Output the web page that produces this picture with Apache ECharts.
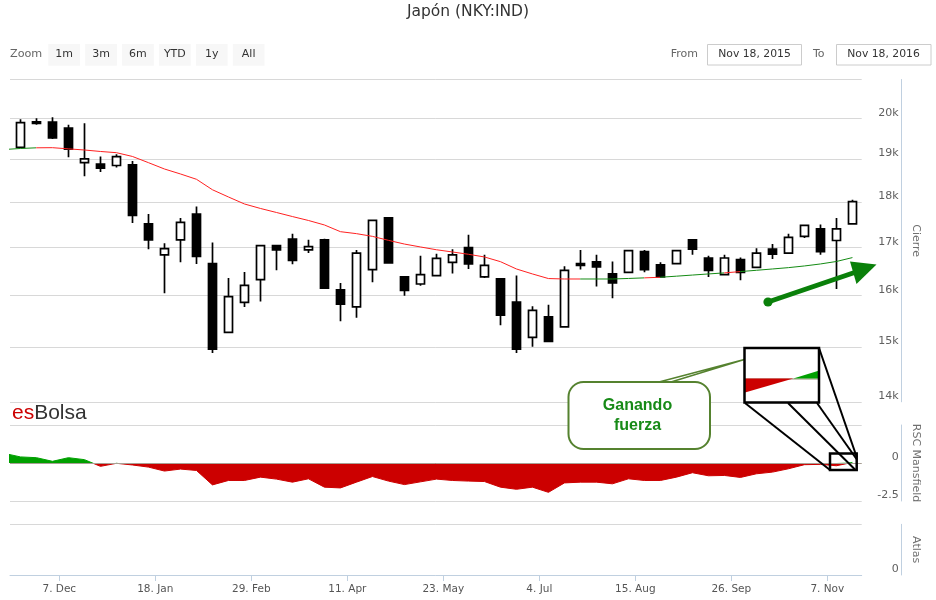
<!DOCTYPE html>
<html>
<head>
<meta charset="utf-8">
<title>Japón (NKY:IND)</title>
<script src="https://cdn.jsdelivr.net/npm/echarts@6.0.0/dist/echarts.min.js"></script>
<style>
html, body { margin: 0; padding: 0; background: #ffffff; }
#chart { width: 936px; height: 600px; }
</style>
</head>
<body>
<div id="chart"></div>
<script>
// ---------- DATA (weekly candles, Friday dates) ----------
const weeks = ['2015-11-20','2015-11-27','2015-12-04','2015-12-11','2015-12-18','2015-12-25',
  '2016-01-01','2016-01-08','2016-01-15','2016-01-22','2016-01-29','2016-02-05','2016-02-12',
  '2016-02-19','2016-02-26','2016-03-04','2016-03-11','2016-03-18','2016-03-25','2016-04-01',
  '2016-04-08','2016-04-15','2016-04-22','2016-04-29','2016-05-06','2016-05-13','2016-05-20',
  '2016-05-27','2016-06-03','2016-06-10','2016-06-17','2016-06-24','2016-07-01','2016-07-08',
  '2016-07-15','2016-07-22','2016-07-29','2016-08-05','2016-08-12','2016-08-19','2016-08-26',
  '2016-09-02','2016-09-09','2016-09-16','2016-09-23','2016-09-30','2016-10-07','2016-10-14',
  '2016-10-21','2016-10-28','2016-11-04','2016-11-11','2016-11-18'];
const open  = [19279,19909,19902,19755,18916,18879,18846,18863,17511,16844,17165,17731,16658,15279,15864,16326,17040,17180,16948,17165,16118,15774,16533,17643,16382,16236,16409,16685,16996,16382,16340,15871,15181,15579,15384,16658,16693,16444,16477,16913,16631,16658,17165,16776,16429,16741,16581,16963,16880,17238,17401,17150,17511];
const close = [19892,19873,19510,19240,19002,18786,19059,17700,17165,16975,17546,16809,14958,15981,16207,17040,16948,16726,17017,16153,15832,16880,17590,16672,16104,16429,16768,16844,16651,16622,15610,14958,15708,15103,16519,16622,16589,16257,16934,16533,16382,16934,16963,16519,16776,16477,16880,16859,17216,17480,16913,17401,18009];
const high  = [19975,20000,20025,19836,19877,19059,19118,18956,17731,17092,17643,17899,17106,16361,16485,17045,17045,17297,17165,17187,16257,16948,17595,17650,16390,16824,16865,16963,17275,16844,16345,16409,15786,15819,16602,16948,16844,16705,16940,16948,16685,16940,17170,16824,16844,16788,16983,17073,17297,17485,17496,17643,18049];
const low   = [19270,19836,19485,19044,18591,18693,18800,17533,16963,16050,16685,16651,14885,15270,15774,15883,16519,16643,16880,16133,15493,15560,16270,16665,16000,16201,16400,16450,16548,16361,15415,14885,15006,15095,15375,16533,16187,15949,16470,16477,16375,16650,16844,16382,16420,16311,16575,16755,16875,17203,16844,16133,17505];

// moving average and RSC Mansfield (one extra earlier week so the lines reach the left edge)
const lineDates = ['2015-11-13'].concat(weeks);
const movingAvg = [19230,19254,19271,19274,19245,19218,19182,19153,19062,18914,18764,18647,18523,18280,18115,17956,17855,17765,17674,17587,17488,17341,17298,17239,17153,17073,17011,16951,16904,16855,16798,16699,16546,16443,16348,16339,16339,16339,16339,16350,16362,16375,16397,16420,16443,16465,16492,16519,16546,16574,16609,16651,16703,16785];
const rscMansfield = [0.63,0.40,0.35,0.11,0.35,0.22,-0.22,-0.02,-0.13,-0.27,-0.53,-0.40,-0.49,-1.44,-1.15,-1.15,-0.93,-1.06,-1.26,-1.04,-1.59,-1.64,-1.26,-0.89,-1.19,-1.42,-1.24,-1.06,-1.15,-1.19,-1.22,-1.59,-1.73,-1.59,-1.93,-1.31,-1.26,-1.26,-1.37,-1.04,-1.15,-1.15,-0.93,-0.64,-0.84,-0.82,-0.95,-0.71,-0.60,-0.38,-0.11,-0.09,-0.18,0.04];

// MA colour changes (green -> red -> green ...)
const maColorBreaks = ['2015-11-27','2016-07-22','2016-08-19','2016-08-26','2016-09-23','2016-09-30'];

// ticks
const priceGridValues  = [14000,15000,16000,17000,18000,19000,20000,21000];
const priceLabelValues = [14000,15000,16000,17000,18000,19000,20000];
const rscGridValues  = [-2.5, 0, 2.5];
const rscLabelValues = [-2.5, 0];
const atlasGridValues  = [1];
const atlasLabelValues = [0];
const xTickDates  = ['2015-12-07','2016-01-18','2016-02-29','2016-04-11','2016-05-23','2016-07-04','2016-08-15','2016-09-26','2016-11-07'];
const xTickLabels = ['7. Dec','18. Jan','29. Feb','11. Apr','23. May','4. Jul','15. Aug','26. Sep','7. Nov'];

const titleText = 'Japón (NKY:IND)';
const rangeButtons = ['1m','3m','6m','YTD','1y','All'];
const fromDate = 'Nov 18, 2015';
const toDate = 'Nov 18, 2016';

// ---------- helpers ----------
const DAY = 86400000;
function toTs(s) { const p = s.split('-').map(Number); return Date.UTC(p[0], p[1] - 1, p[2]); }
const weekTs = weeks.map(toTs);
const lineTs = lineDates.map(toTs);
const xTicksTs = xTickDates.map(toTs);
const xMin = toTs('2015-11-15') + 0.43 * DAY;
const xMax = toTs('2016-11-22') + 0.05 * DAY;

const FONT = '"DejaVu Sans", Verdana, sans-serif';
const GREEN_MA = '#138a13', RED = '#ff2020';
const RSC_UP = '#00a000', RSC_DOWN = '#cc0000';

const candleData = weekTs.map((t, i) => [t, open[i], close[i], low[i], high[i]]);
const maData = lineTs.map((t, i) => [t, movingAvg[i]]);
const rscData = lineTs.map((t, i) => [t, rscMansfield[i]]);

const breakTs = maColorBreaks.map(toTs);
const maPieces = [];
for (let i = 0; i <= breakTs.length; i++) {
  const piece = { color: i % 2 === 0 ? GREEN_MA : RED };
  if (i > 0) piece.gte = breakTs[i - 1];
  if (i < breakTs.length) piece.lt = breakTs[i];
  maPieces.push(piece);
}

const gridLeft = 10, gridRight = 74.3;
const grids = [
  { top: 79.5, height: 322.3 },
  { top: 425, height: 76 },
  { top: 524.3, height: 50.7 }
];
const axisLineColor = '#C0D0E0', gridColor = '#D8D8D8';

// RSC pane: green above zero, red below (zero is the middle of the symmetric -2.5..2.5 pane)
const rscMin = -2.5, rscMax = 2.5;
const zeroFrac = rscMax / (rscMax - rscMin);
const rscGradient = new echarts.graphic.LinearGradient(0, grids[1].top, 0, grids[1].top + grids[1].height, [
  { offset: 0, color: RSC_UP }, { offset: zeroFrac, color: RSC_UP },
  { offset: zeroFrac, color: RSC_DOWN }, { offset: 1, color: RSC_DOWN }
], true);

function yAxisBase(gridIndex, name) {
  return {
    gridIndex: gridIndex, position: 'right', offset: 40,
    axisLine: { show: true, lineStyle: { color: axisLineColor, width: 1 } },
    splitLine: { show: true, lineStyle: { color: gridColor, width: 1 } },
    name: name, nameLocation: 'middle', nameRotate: -90, nameGap: 8,
    nameTextStyle: { color: '#707070', fontSize: 11, fontFamily: FONT }
  };
}
function labelStyle(values, fmt) {
  return { inside: true, customValues: values, formatter: fmt, color: '#606060',
    fontSize: 11, fontFamily: FONT, verticalAlign: 'bottom', margin: 3 };
}

// ---------- graphic (title, range selector, annotations) ----------
function txt(x, y, text, size, fill, align, weight, family) {
  return { type: 'text', x: x, y: y, z: 50, silent: true,
    style: { text: text, fontSize: size, fontFamily: family || FONT, fontWeight: weight || 'normal',
      fill: fill, align: align || 'left', verticalAlign: 'middle' } };
}
const graphics = [];
graphics.push(txt(468, 12, titleText, 15.5, '#333333', 'center'));
graphics.push(txt(10, 54, 'Zoom', 11.2, '#666666', 'left'));
rangeButtons.forEach((b, i) => {
  const x0 = 48.3 + i * 36.9;
  graphics.push({ type: 'rect', z: 50, silent: true, shape: { x: x0, y: 44, width: 31.7, height: 21.7 }, style: { fill: '#f7f7f7' } });
  graphics.push(txt(x0 + 15.85, 54, b, 11, '#333333', 'center'));
});
graphics.push(txt(670.7, 54, 'From', 11, '#666666', 'left'));
graphics.push({ type: 'rect', z: 50, silent: true, shape: { x: 707.5, y: 44.5, width: 94, height: 20.5 }, style: { fill: '#fff', stroke: '#cccccc', lineWidth: 1 } });
graphics.push(txt(754.5, 54.5, fromDate, 10.8, '#333333', 'center'));
graphics.push(txt(813, 54, 'To', 11, '#666666', 'left'));
graphics.push({ type: 'rect', z: 50, silent: true, shape: { x: 836.5, y: 44.5, width: 94.5, height: 20.5 }, style: { fill: '#fff', stroke: '#cccccc', lineWidth: 1 } });
graphics.push(txt(883.5, 54.5, toDate, 10.8, '#333333', 'center'));

// watermark
graphics.push({ type: 'text', x: 12, y: 413, z: 5, silent: true,
  style: { text: '{a|es}{b|Bolsa}', verticalAlign: 'middle', align: 'left',
    rich: { a: { fill: '#cc0000', fontSize: 21, fontFamily: '"Liberation Sans", Arial, sans-serif' },
            b: { fill: '#333333', fontSize: 21, fontFamily: '"Liberation Sans", Arial, sans-serif' } } } });

// green arrow
const ARW = '#0a800a';
graphics.push({ type: 'line', z: 60, silent: true, shape: { x1: 768, y1: 302, x2: 856, y2: 272 }, style: { stroke: ARW, lineWidth: 5 } });
graphics.push({ type: 'circle', z: 60, silent: true, shape: { cx: 768, cy: 302, r: 4.6 }, style: { fill: ARW } });
graphics.push({ type: 'polygon', z: 60, silent: true, shape: { points: [[850, 261.5], [876.5, 264.5], [856.5, 284]] }, style: { fill: ARW } });

// callout
const CALL = '#55822f';
graphics.push({ type: 'rect', z: 60, silent: true, shape: { x: 568.5, y: 382, width: 141.5, height: 67, r: 15 }, style: { fill: '#ffffff', stroke: CALL, lineWidth: 2 } });
graphics.push({ type: 'polyline', z: 61, silent: true, shape: { points: [[659, 382], [744.3, 359.5], [671, 382]] }, style: { stroke: CALL, lineWidth: 1.5, fill: null } });
graphics.push({ type: 'text', x: 637.5, y: 415.5, z: 62, silent: true,
  style: { text: 'Ganando\nfuerza', fontSize: 16, fontWeight: 'bold', fontFamily: '"Liberation Sans", Arial, sans-serif',
    fill: '#178a17', align: 'center', verticalAlign: 'middle', lineHeight: 20 } });

// zoom inset
graphics.push({ type: 'rect', z: 60, silent: true, shape: { x: 744.5, y: 348, width: 74.5, height: 54.5 }, style: { fill: '#ffffff' } });
graphics.push({ type: 'line', z: 61, silent: true, shape: { x1: 745, y1: 379, x2: 818.5, y2: 379 }, style: { stroke: '#b8b0a0', lineWidth: 1.5 } });
graphics.push({ type: 'polygon', z: 62, silent: true, shape: { points: [[745, 378.5], [745, 392.5], [793.3, 378.5]] }, style: { fill: '#cc0000' } });
graphics.push({ type: 'polygon', z: 62, silent: true, shape: { points: [[793.3, 378.5], [818.5, 370.7], [818.5, 378.5]] }, style: { fill: '#00a000' } });
graphics.push({ type: 'rect', z: 63, silent: true, shape: { x: 744.5, y: 348, width: 74.5, height: 54.5 }, style: { fill: null, stroke: '#000', lineWidth: 2.5 } });
graphics.push({ type: 'rect', z: 63, silent: true, shape: { x: 830, y: 453.5, width: 26.7, height: 16.5 }, style: { fill: null, stroke: '#000', lineWidth: 2.5 } });
[[745, 403, 830, 470], [788, 403, 855, 469.5], [817, 403, 856.5, 459], [819, 348, 856.7, 457]].forEach(l => {
  graphics.push({ type: 'line', z: 63, silent: true, shape: { x1: l[0], y1: l[1], x2: l[2], y2: l[3] }, style: { stroke: '#000', lineWidth: 2 } });
});

// ---------- chart ----------
const chart = echarts.init(document.getElementById('chart'), null, { renderer: 'canvas' });
const hiddenX = (gi) => ({ type: 'value', gridIndex: gi, min: xMin, max: xMax, show: false, splitLine: { show: false } });
const option = {
  animation: false,
  backgroundColor: '#ffffff',
  textStyle: { fontFamily: FONT },
  grid: grids.map(g => ({ left: gridLeft, right: gridRight, top: g.top, height: g.height, outerBoundsMode: 'none' })),
  xAxis: [
    hiddenX(0),
    hiddenX(1),
    { type: 'value', gridIndex: 2, min: xMin, max: xMax, scale: true,
      axisLine: { show: true, lineStyle: { color: axisLineColor, width: 1 } },
      axisTick: { show: true, customValues: xTicksTs, length: 6, lineStyle: { color: axisLineColor } },
      axisLabel: { customValues: xTicksTs, color: '#555555', fontSize: 10.5, fontFamily: FONT, margin: 9,
        formatter: function (v) { const i = xTicksTs.indexOf(+v); return i >= 0 ? xTickLabels[i] : ''; } },
      splitLine: { show: false } }
  ],
  yAxis: [
    Object.assign(yAxisBase(0, 'Cierre'), { type: 'log', logBase: 10, min: 14000, max: 21000,
      axisTick: { show: false, customValues: priceGridValues },
      axisLabel: labelStyle(priceLabelValues, v => Math.round(v / 1000) + 'k') }),
    Object.assign(yAxisBase(1, 'RSC Mansfield'), { type: 'value', min: rscMin, max: rscMax,
      axisTick: { show: false, customValues: rscGridValues },
      axisLabel: labelStyle(rscLabelValues, v => (v === 0 ? '0' : String(v))) }),
    Object.assign(yAxisBase(2, 'Atlas'), { type: 'value', min: 0, max: 1,
      axisTick: { show: false, customValues: atlasGridValues },
      axisLabel: labelStyle(atlasLabelValues, v => String(v)) })
  ],
  visualMap: [
    { type: 'piecewise', show: false, seriesIndex: 1, dimension: 0, pieces: maPieces }
  ],
  series: [
    { name: 'Cierre', type: 'candlestick', xAxisIndex: 0, yAxisIndex: 0,
      dimensions: ['date', 'open', 'close', 'lowest', 'highest'],
      encode: { x: 0, y: [1, 2, 3, 4] },
      barWidth: 8, data: candleData,
      itemStyle: { color: '#ffffff', color0: '#000000', borderColor: '#000000', borderColor0: '#000000', borderColorDoji: '#000000', borderWidth: 1.7 } },
    { name: 'Media', type: 'line', xAxisIndex: 0, yAxisIndex: 0, data: maData,
      showSymbol: false, symbol: 'none', lineStyle: { width: 1 }, z: 3 },
    { name: 'RSC Mansfield', type: 'line', xAxisIndex: 1, yAxisIndex: 1, data: rscData,
      showSymbol: false, symbol: 'none',
      lineStyle: { width: 1, color: rscGradient },
      itemStyle: { color: RSC_DOWN },
      areaStyle: { opacity: 1, color: rscGradient } },
    { name: 'Cero', type: 'line', xAxisIndex: 1, yAxisIndex: 1, data: [], z: 4,
      markLine: { silent: true, symbol: 'none', label: { show: false }, animation: false,
        lineStyle: { color: '#a89f94', width: 1, type: 'solid' }, data: [{ yAxis: 0 }] } }
  ],
  graphic: { elements: graphics }
};
chart.setOption(option);
</script>
</body>
</html>
